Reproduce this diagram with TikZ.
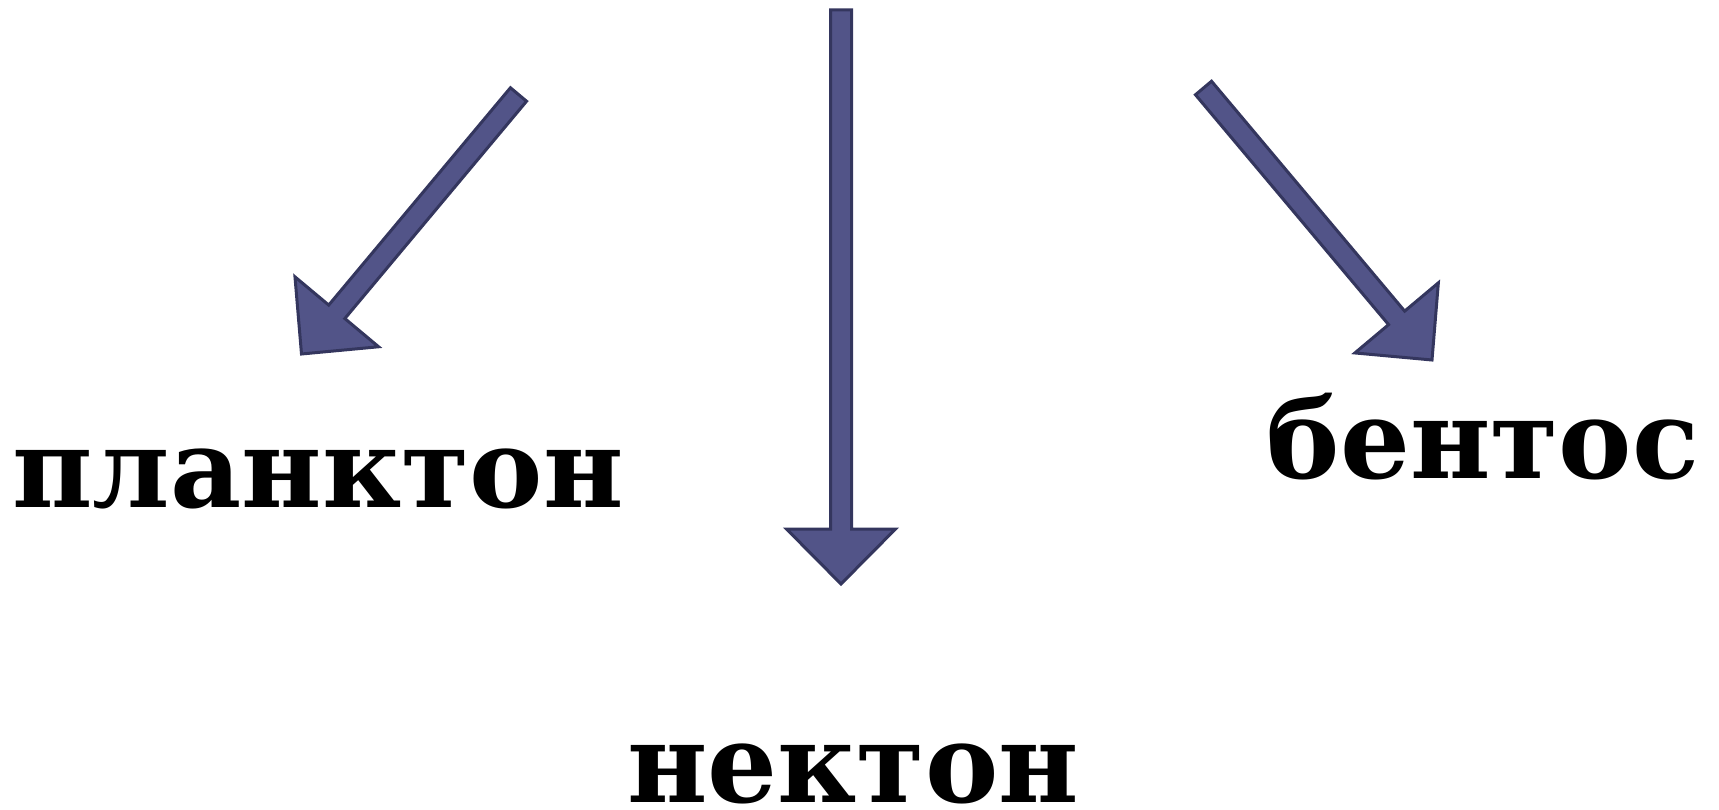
\documentclass[tikz,border=0pt]{standalone}
\usepackage{fontspec}
\setmainfont{DejaVu Serif}
\usetikzlibrary{calc}
\definecolor{arrfill}{RGB}{82,84,136}
\definecolor{arrline}{RGB}{52,54,94}
\tikzset{
  blockarrow/.style={fill=arrfill,draw=arrline,line width=3pt,line join=miter},
  wordlabel/.style={font=\bfseries\fontsize{110}{114}\selectfont,inner sep=0pt,anchor=base}
}
\newcommand\blockarr[2]{%
  \coordinate (#1-b) at ($(#2)!55pt!(#1)$);
  \draw[blockarrow]
    ($(#1)!10.5pt!90:(#2)$) -- ($(#1-b)!10.5pt!90:(#2)$) -- ($(#1-b)!54.5pt!90:(#2)$)
    -- (#2) --
    ($(#1-b)!54.5pt!-90:(#2)$) -- ($(#1-b)!10.5pt!-90:(#2)$) -- ($(#1)!10.5pt!-90:(#2)$) -- cycle;
}
\begin{document}
\begin{tikzpicture}[x=1pt,y=-1pt]
\useasboundingbox (0,0) rectangle (1719,810);
\node[wordlabel] (plank) at (318,507.6) {планктон};
\node[wordlabel] (bent) at (1483,478) {бентос};
\node[wordlabel] (nekt) at (853,802) {нектон};
\coordinate (tailL) at (518.5,94.5);
\coordinate (tipL) at (301.5,354);
\coordinate (tailM) at (841,10);
\coordinate (tipM) at (841,584);
\coordinate (tailR) at (1203.5,88);
\coordinate (tipR) at (1432,360);
\blockarr{tailL}{tipL}
\blockarr{tailM}{tipM}
\blockarr{tailR}{tipR}
\end{tikzpicture}
\end{document}
